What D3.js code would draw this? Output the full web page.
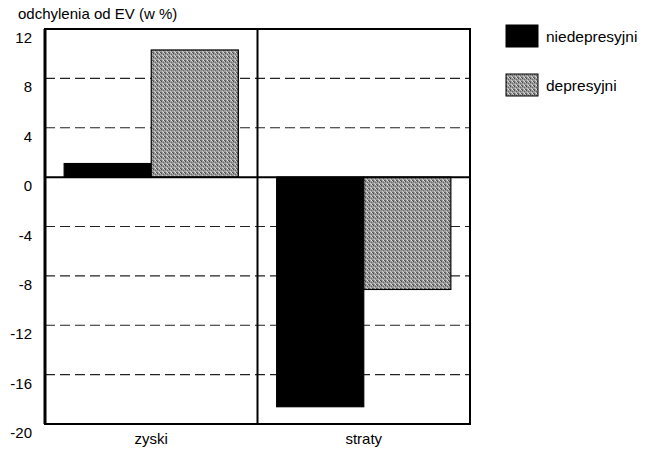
<!DOCTYPE html>
<html>
<head>
<meta charset="utf-8">
<script src="https://cdn.jsdelivr.net/npm/d3@7"></script>
<style>
  body { margin: 0; background: #fff; }
  text { font-family: "Liberation Sans", Arial, sans-serif; fill: #000; }
</style>
</head>
<body>
<div id="chart"></div>
<script>
// data
const categories = ["zyski", "straty"];
const seriesNames = ["niedepresyjni", "depresyjni"];
const niedepresyjni = [1.1, -18.6];
const depresyjni = [10.3, -9.1];
const yTicks = [12, 8, 4, 0, -4, -8, -12, -16, -20];
const gridTicks = [8, 4, -4, -8, -12, -16];

const W = 650, H = 450;
const margin = {top: 29, right: 180, bottom: 26, left: 45},
      width = W - margin.left - margin.right,
      height = H - margin.top - margin.bottom;

const svg = d3.select("#chart").append("svg")
    .attr("width", W).attr("height", H);

// stippled grey fill like the printed one
const defs = svg.append("defs");
const pat = defs.append("pattern")
    .attr("id", "stipple")
    .attr("patternUnits", "userSpaceOnUse")
    .attr("width", 4).attr("height", 4);
pat.append("rect").attr("width", 4).attr("height", 4).attr("fill", "#9a9a9a");
[[0,0,"#444"],[2,1,"#666"],[1,2,"#d0d0d0"],[3,3,"#555"],[3,0,"#c4c4c4"],[0,3,"#777"],[2,3,"#e0e0e0"]]
  .forEach(p => pat.append("rect").attr("x", p[0]).attr("y", p[1])
      .attr("width", 1).attr("height", 1).attr("fill", p[2]));

const g = svg.append("g")
    .attr("transform", `translate(${margin.left},${margin.top})`);

const x = d3.scaleBand().domain(categories).range([0, width]).paddingInner(0).paddingOuter(0);
const xs = d3.scaleBand().domain(seriesNames).range([0, x.bandwidth()]).paddingOuter(0.22).paddingInner(0);
const y = d3.scaleLinear().domain([-20, 12]).range([height, 0]);

// dashed grid
g.append("g")
  .selectAll("line")
  .data(gridTicks)
  .join("line")
    .attr("x1", 0).attr("x2", width)
    .attr("y1", d => y(d)).attr("y2", d => y(d))
    .attr("stroke", "#222")
    .attr("stroke-width", 1.2)
    .attr("stroke-dasharray", "10 5");

// bars
const data = [];
categories.forEach((c, i) => {
  data.push({cat: c, s: "niedepresyjni", v: niedepresyjni[i]});
  data.push({cat: c, s: "depresyjni", v: depresyjni[i]});
});

g.append("g")
  .selectAll("rect")
  .data(data)
  .join("rect")
    .attr("x", d => x(d.cat) + xs(d.s))
    .attr("width", xs.bandwidth())
    .attr("y", d => y(Math.max(0, d.v)))
    .attr("height", d => Math.abs(y(d.v) - y(0)))
    .attr("fill", d => d.s == "niedepresyjni" ? "#000" : "url(#stipple)")
    .attr("stroke", "#000")
    .attr("stroke-width", 1.2);

// zero line
g.append("line")
    .attr("x1", 0).attr("x2", width)
    .attr("y1", y(0)).attr("y2", y(0))
    .attr("stroke", "#000").attr("stroke-width", 2);

// divider between categories
g.append("line")
    .attr("x1", x("straty")).attr("x2", x("straty"))
    .attr("y1", 0).attr("y2", height)
    .attr("stroke", "#000").attr("stroke-width", 2);

// frame
g.append("rect")
    .attr("width", width).attr("height", height)
    .attr("fill", "none").attr("stroke", "#000").attr("stroke-width", 2);
g.append("line")
    .attr("x1", 0).attr("x2", 0).attr("y1", 0).attr("y2", height)
    .attr("stroke", "#000").attr("stroke-width", 3);

// y axis labels
const yAxis = g.append("g")
    .call(d3.axisLeft(y).tickValues(yTicks).tickFormat(d => String(d)).tickSize(0).tickPadding(13));
yAxis.select(".domain").remove();
yAxis.selectAll("text")
    .attr("dy", "0.9em")
    .style("font-size", "15px")
    .style("font-family", "Liberation Sans, Arial, sans-serif");

// x axis labels
const xAxis = g.append("g")
    .attr("transform", `translate(0,${height})`)
    .call(d3.axisBottom(x).tickSize(0).tickPadding(9));
xAxis.select(".domain").remove();
xAxis.selectAll("text")
    .style("font-size", "15px")
    .style("font-family", "Liberation Sans, Arial, sans-serif");

// axis title
svg.append("text")
    .attr("x", 18).attr("y", 19)
    .style("font-size", "15px")
    .text("odchylenia od EV (w %)");

// legend
const legend = svg.append("g").attr("transform", "translate(506,25)");
seriesNames.forEach((s, i) => {
  const row = legend.append("g").attr("transform", `translate(0,${i * 49})`);
  row.append("rect")
      .attr("width", 32).attr("height", 22)
      .attr("fill", s == "niedepresyjni" ? "#000" : "url(#stipple)")
      .attr("stroke", "#000").attr("stroke-width", 1);
  row.append("text")
      .attr("x", 40).attr("y", 17)
      .style("font-size", "15.5px")
      .text(s);
});
</script>
</body>
</html>
